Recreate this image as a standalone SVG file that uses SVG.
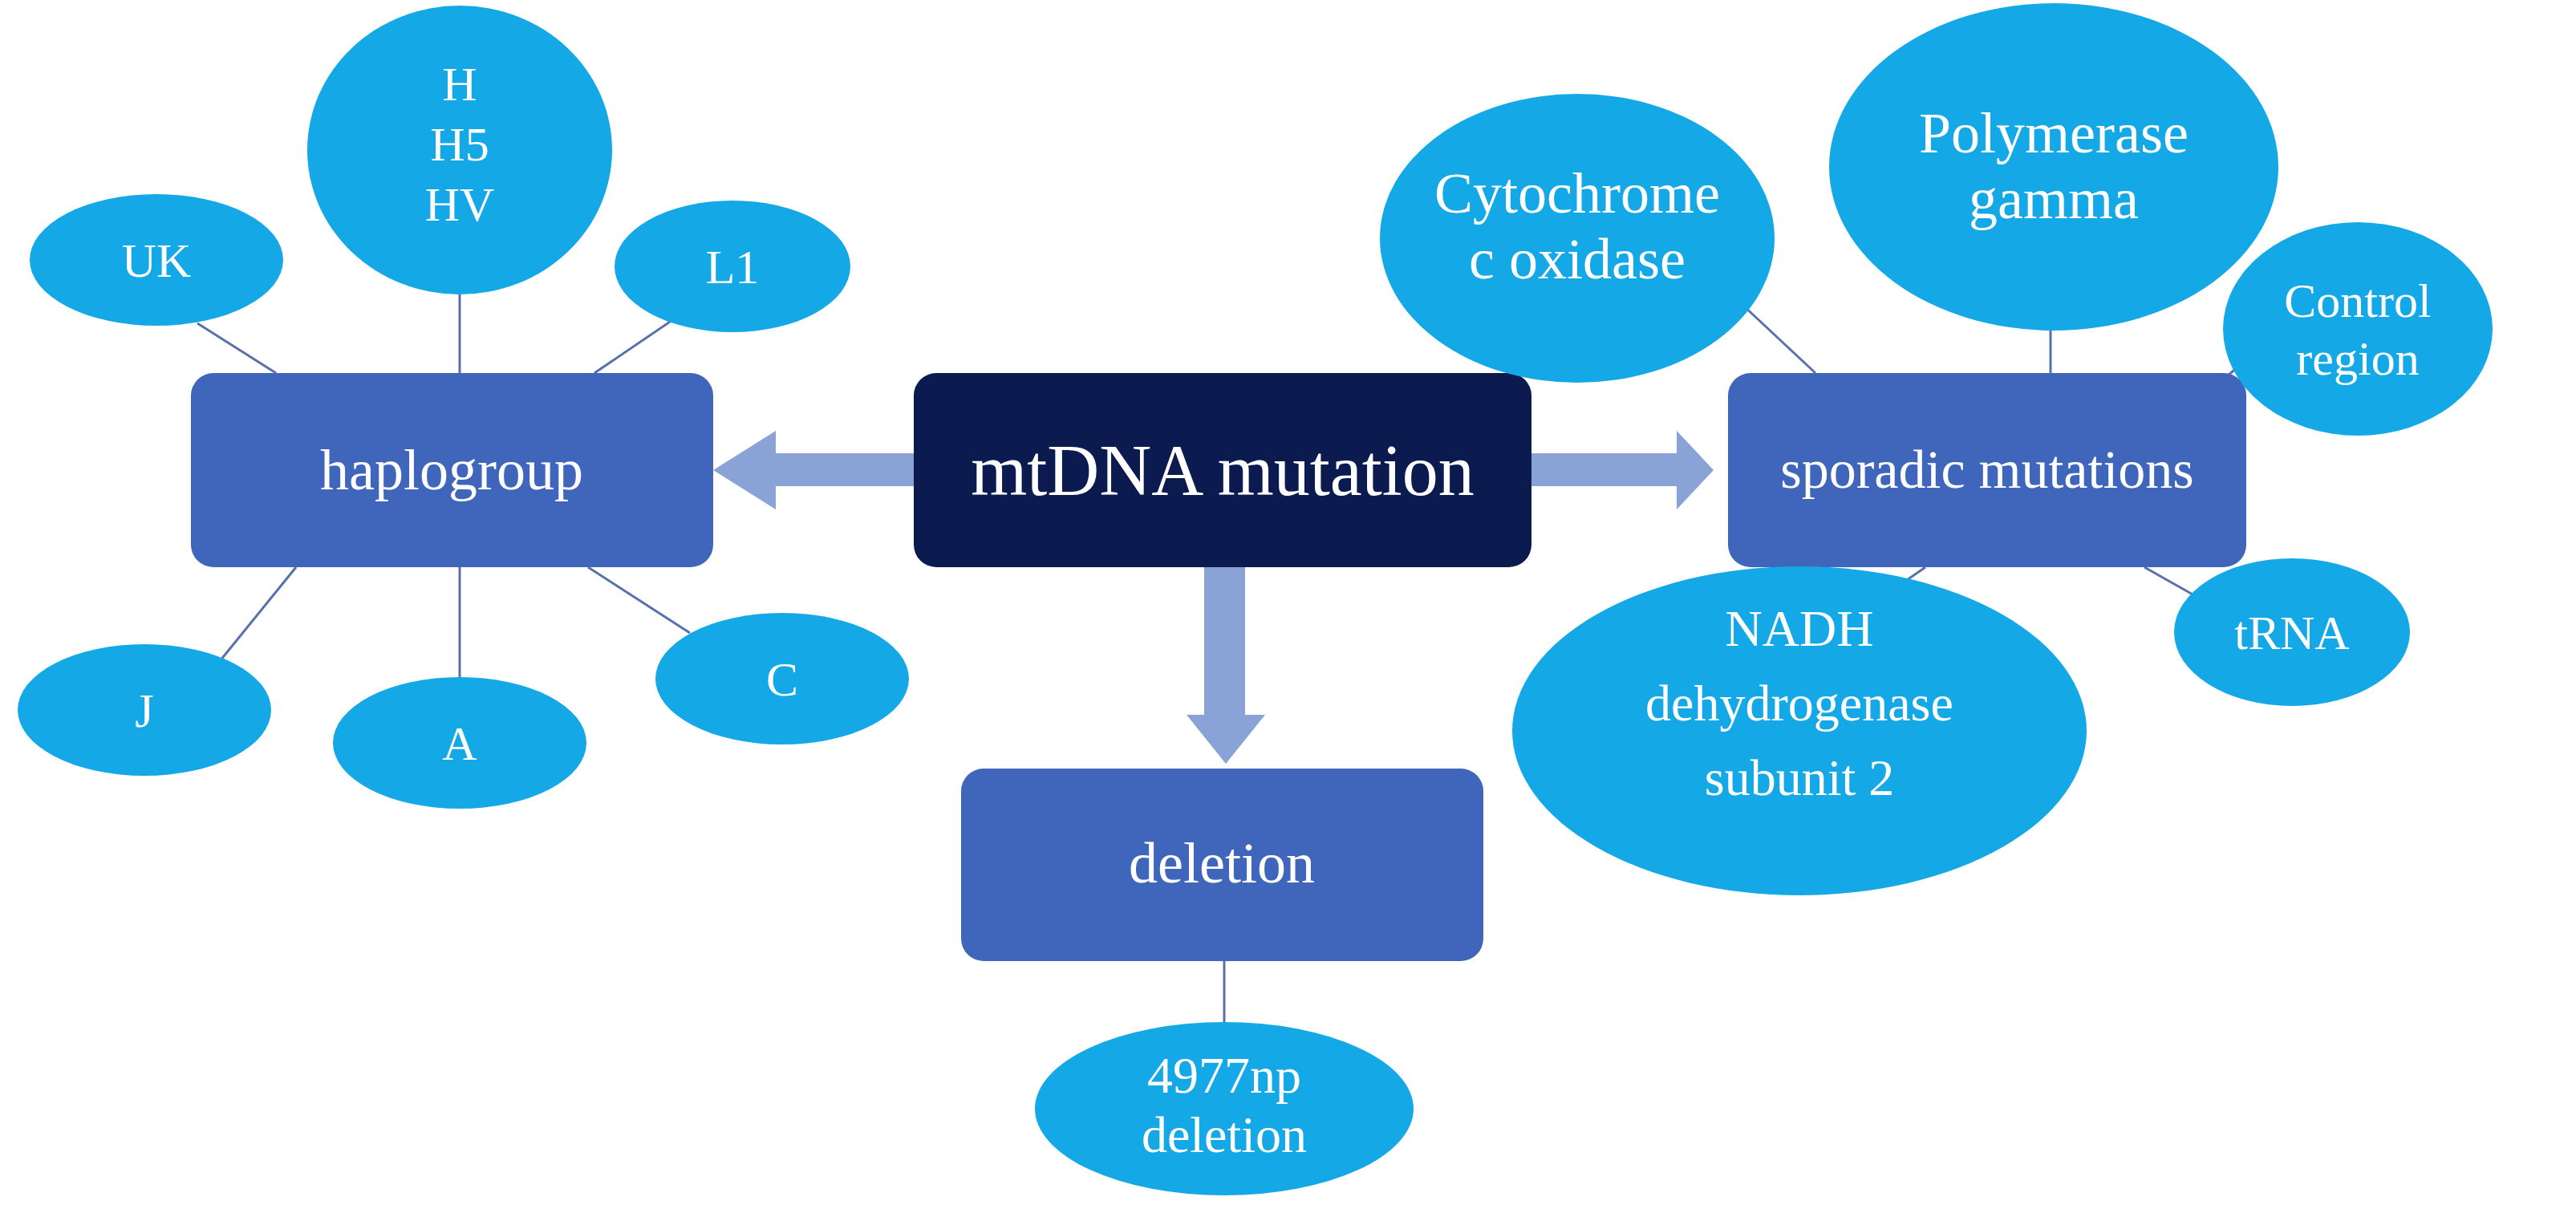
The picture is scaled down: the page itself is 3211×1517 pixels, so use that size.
<svg xmlns="http://www.w3.org/2000/svg" width="3211" height="1517" viewBox="0 0 3211 1517">
<style>
.e{fill:#14a9e6}
.b{fill:#4066bc}
.t{font-family:"Liberation Serif",serif;fill:#fff;text-anchor:middle}
.s{font-size:60px}
.m{font-size:72px}
.k{font-size:72px}
.l{stroke:#5a70ad;stroke-width:3}
.a{fill:#8aa3d6}
</style>
<rect width="3211" height="1517" fill="#fff"/>
<g id="connectors">
<line class="l" x1="246" y1="403" x2="344" y2="465"/>
<line class="l" x1="573" y1="360" x2="573" y2="465"/>
<line class="l" x1="844" y1="395" x2="741" y2="465"/>
<line class="l" x1="270" y1="829" x2="369" y2="707"/>
<line class="l" x1="573" y1="707" x2="573" y2="846"/>
<line class="l" x1="733" y1="707" x2="860" y2="789"/>
<line class="l" x1="2171" y1="379" x2="2263" y2="465"/>
<line class="l" x1="2556" y1="410" x2="2556" y2="465"/>
<line class="l" x1="2775" y1="470" x2="2800" y2="448"/>
<line class="l" x1="2400" y1="707" x2="2298" y2="778"/>
<line class="l" x1="2673" y1="707" x2="2735" y2="742"/>
<line class="l" x1="1526" y1="1198" x2="1526" y2="1274"/>
<polygon class="a" points="1139,565 967,565 967,537 889,586 967,635 967,606 1139,606"/>
<polygon class="a" points="1909,565 2090,565 2090,537 2136,586 2090,635 2090,606 1909,606"/>
<polygon class="a" points="1501,707 1501,891 1479,891 1528,952 1577,891 1552,891 1552,707"/>
</g>
<g id="haplogroup"><rect class="b" x="238" y="465" width="651" height="242" rx="28"/><text class="t m" x="563" y="610">haplogroup</text></g>
<g id="mtdna"><rect x="1139" y="465" width="770" height="242" rx="28" fill="#0b1b4f"/><text class="t" font-size="90" x="1524" y="617">mtDNA mutation</text></g>
<g id="sporadic"><rect class="b" x="2154" y="465" width="646" height="242" rx="28"/><text class="t" font-size="68" x="2477" y="608">sporadic mutations</text></g>
<g id="deletion"><rect class="b" x="1198" y="958" width="651" height="240" rx="28"/><text class="t m" x="1523" y="1100">deletion</text></g>
<g id="H"><ellipse class="e" cx="573" cy="187" rx="190" ry="180"/><text class="t s" x="573" y="125">H</text><text class="t s" x="573" y="200">H5</text><text class="t s" x="573" y="275">HV</text></g>
<g id="UK"><ellipse class="e" cx="195" cy="324" rx="158" ry="82"/><text class="t s" x="195" y="345">UK</text></g>
<g id="L1"><ellipse class="e" cx="913" cy="332" rx="147" ry="82"/><text class="t s" x="913" y="353">L1</text></g>
<g id="J"><ellipse class="e" cx="180" cy="885" rx="158" ry="82"/><text class="t s" x="180" y="906">J</text></g>
<g id="A"><ellipse class="e" cx="573" cy="926" rx="158" ry="82"/><text class="t s" x="573" y="947">A</text></g>
<g id="C"><ellipse class="e" cx="975" cy="846" rx="158" ry="82"/><text class="t s" x="975" y="867">C</text></g>
<g id="cyto"><ellipse class="e" cx="1966" cy="297" rx="246" ry="180"/><text class="t k" x="1966" y="265">Cytochrome</text><text class="t k" x="1966" y="347">c oxidase</text></g>
<g id="poly"><ellipse class="e" cx="2560" cy="208" rx="280" ry="204"/><text class="t k" x="2560" y="190">Polymerase</text><text class="t k" x="2560" y="272">gamma</text></g>
<g id="control"><ellipse class="e" cx="2939" cy="410" rx="168" ry="133"/><text class="t s" x="2939" y="395">Control</text><text class="t s" x="2939" y="467">region</text></g>
<g id="nadh"><ellipse class="e" cx="2243" cy="911" rx="358" ry="205"/><text class="t" font-size="64" x="2243" y="805">NADH</text><text class="t" font-size="64" x="2243" y="898">dehydrogenase</text><text class="t" font-size="64" x="2243" y="991">subunit 2</text></g>
<g id="trna"><ellipse class="e" cx="2857" cy="788" rx="147" ry="92"/><text class="t s" x="2857" y="809">tRNA</text></g>
<g id="np"><ellipse class="e" cx="1526" cy="1382" rx="236" ry="108"/><text class="t" font-size="64" x="1526" y="1362">4977np</text><text class="t" font-size="64" x="1526" y="1436">deletion</text></g>
</svg>
